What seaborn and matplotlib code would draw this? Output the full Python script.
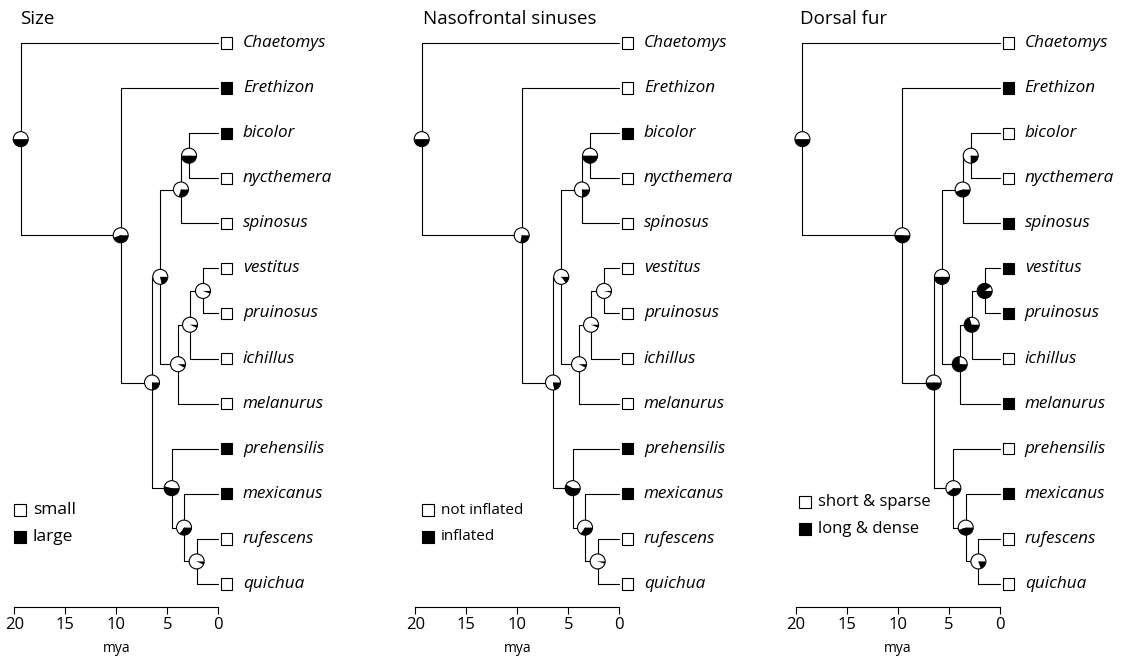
import matplotlib
matplotlib.use("Agg")
import matplotlib.pyplot as plt
import matplotlib.transforms as mtransforms
from matplotlib.patches import Wedge, Circle
import pandas as pd
import seaborn as sns

##########
## Data ##
##########

tips = ["Chaetomys", "Erethizon", "bicolor", "nycthemera", "spinosus", "vestitus",
        "pruinosus", "ichillus", "melanurus", "prehensilis", "mexicanus", "rufescens", "quichua"]

# internal nodes, ages in mya and the two children of each
node_names = ["root", "n1", "C", "A", "D", "E", "F", "G", "H", "B", "I", "J"]
node_ages = [19.37, 9.57, 6.5, 5.69, 3.66, 2.87, 3.95, 2.77, 1.5, 4.57, 3.36, 2.12]
node_children = [("Chaetomys", "n1"), ("Erethizon", "C"), ("A", "B"), ("D", "F"),
                 ("E", "spinosus"), ("bicolor", "nycthemera"), ("G", "melanurus"),
                 ("H", "ichillus"), ("vestitus", "pruinosus"), ("prehensilis", "I"),
                 ("mexicanus", "J"), ("rufescens", "quichua")]

titles = ["Size", "Nasofrontal sinuses", "Dorsal fur"]

size_tips = [0, 1, 1, 0, 0, 0, 0, 0, 0, 1, 1, 0, 0]
naso_tips = [0, 0, 1, 0, 0, 0, 0, 0, 0, 1, 1, 0, 0]
fur_tips = [0, 1, 0, 0, 1, 1, 1, 0, 1, 0, 1, 0, 0]

# probability of the black state at each node (order of node_names)
size_pp = [0.5, 0.45, 0.25, 0.22, 0.3, 0.5, 0.08, 0.07, 0.06, 0.54, 0.35, 0.07]
naso_pp = [0.5, 0.28, 0.22, 0.15, 0.25, 0.5, 0.08, 0.06, 0.04, 0.58, 0.35, 0.05]
fur_pp = [0.5, 0.5, 0.5, 0.5, 0.45, 0.25, 0.75, 0.7, 0.9, 0.4, 0.45, 0.2]

legend_labels = [["small", "large"], ["not inflated", "inflated"],
                 ["short & sparse", "long & dense"]]

tip_states = [size_tips, naso_tips, fur_tips]
node_pps = [size_pp, naso_pp, fur_pp]

###################
## Tree geometry ##
###################

ypos = {t: float(i) for i, t in enumerate(tips)}
xpos = {t: 0.0 for t in tips}
for name, age, (c1, c2) in reversed(list(zip(node_names, node_ages, node_children))):
    ypos[name] = (ypos[c1] + ypos[c2]) / 2
    xpos[name] = -age

###########
## Plot ##
###########

sns.set_style("white")
plt.rcParams['font.family'] = ['Open Sans', 'DejaVu Sans']
plt.rcParams['text.color'] = 'black'

W, H = 1121, 656
fig = plt.figure(figsize=(W / 100, H / 100), dpi=100)

px_per_mya = 10.2
y0_px, dy_px = 43, 45.08
# panel left, width, pixel x of the tips (all in pixels)
panels = [(0, 370, 218.3), (390, 370, 619.3), (770, 351, 1000.0)]
title_x = [20, 423, 800]
legend_pos = [(20, 510, 12.5), (428, 510, 11), (805, 502, 12)]


def px2data(px, py, tip_px):
    return (px - tip_px) / px_per_mya, (py - y0_px) / dy_px


for k in range(3):
    left, width, tip_px = panels[k]
    ax = fig.add_axes([left / W, 0, width / W, 1])

    # branches
    for name, (c1, c2) in zip(node_names, node_children):
        x = xpos[name]
        ax.plot([x, x], [ypos[c1], ypos[c2]], color='black', lw=0.8, zorder=1)
        for c in (c1, c2):
            ax.plot([x, xpos[c]], [ypos[c], ypos[c]], color='black', lw=0.8, zorder=1)

    # tip squares
    df = pd.DataFrame({'x': 0.8, 'y': [ypos[t] for t in tips], 'state': tip_states[k]})
    sns.scatterplot(data=df, x='x', y='y', hue='state', palette={0: 'white', 1: 'black'},
                    marker='s', s=66, edgecolor='black', linewidth=0.8, legend=False,
                    ax=ax, zorder=3)
    for t in tips:
        ax.text(2.42, ypos[t], t, style='italic', va='center', ha='left', fontsize=12.3)

    # pies at nodes
    for name, p in zip(node_names, node_pps[k]):
        trans = fig.dpi_scale_trans + mtransforms.ScaledTranslation(xpos[name], ypos[name], ax.transData)
        split = 360 * (1 - p)
        ax.add_patch(Wedge((0, 0), 0.075, 0, split, facecolor='white', lw=0, transform=trans, zorder=4))
        ax.add_patch(Wedge((0, 0), 0.075, split, 360, facecolor='black', lw=0, transform=trans, zorder=4))
        ax.add_patch(Circle((0, 0), 0.075, facecolor='none', edgecolor='black', lw=0.8,
                            transform=trans, zorder=5))

    # legend
    lx, ly, lfs = legend_pos[k]
    for j, col in enumerate(['white', 'black']):
        x, y = px2data(lx, ly + 27 * j, tip_px)
        ax.scatter([x], [y], marker='s', s=66, facecolor=col, edgecolor='black', lw=0.8, zorder=3)
        ax.text(x + 13 / px_per_mya, y, legend_labels[k][j], va='center', ha='left', fontsize=lfs)

    # time axis
    ax.set_xlim((left - tip_px) / px_per_mya, (left + width - tip_px) / px_per_mya)
    ax.set_ylim((H - y0_px) / dy_px, -y0_px / dy_px)
    ax.set_autoscale_on(False)
    for side in ['top', 'left', 'right']:
        ax.spines[side].set_visible(False)
    ax.spines['bottom'].set_position(('data', (607 - y0_px) / dy_px))
    ax.spines['bottom'].set_bounds(-20, 0)
    ax.spines['bottom'].set_linewidth(0.8)
    ax.spines['bottom'].set_color('black')
    ax.set_xticks([-20, -15, -10, -5, 0])
    ax.set_xticklabels(['20', '15', '10', '5', '0'])
    ax.set_yticks([])
    ax.tick_params(axis='x', bottom=True, length=5, width=0.8, labelsize=12, pad=2, colors='black')
    ax.set_xlabel('')
    ax.set_ylabel('')
    ax.text(-10, (648 - y0_px) / dy_px, 'mya', ha='center', va='center', fontsize=10)
    ax.patch.set_visible(False)

    fig.text(title_x[k] / W, 1 - 24 / H, titles[k], fontsize=13.5, va='baseline', ha='left')

plt.savefig("out.png", dpi=100)
